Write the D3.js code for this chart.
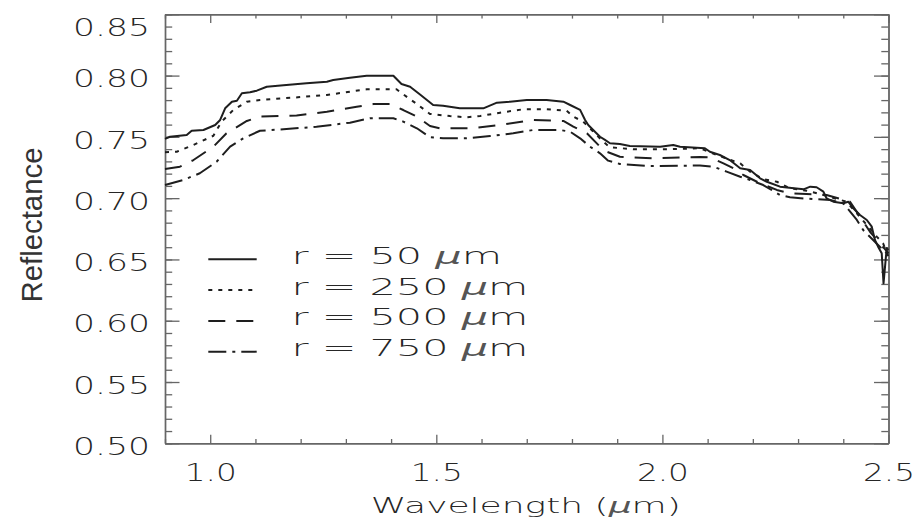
<!DOCTYPE html>
<html lang="en">
<head>
<meta charset="UTF-8">
<title>Reflectance spectra</title>
<style>
  body { margin: 0; background: #fff; }
  svg { display: block; }
</style>
</head>
<body>
<script src="https://cdnjs.cloudflare.com/ajax/libs/d3/7.8.5/d3.min.js"></script>
<script>

// values (wavelength in micron, reflectance)
var wave50 = [0.900, 0.911, 0.948, 0.959, 0.985, 1.011, 1.022, 1.033, 1.048, 1.059, 1.070, 1.088, 1.103, 1.125,
              1.162, 1.213, 1.258, 1.272, 1.309, 1.346, 1.405, 1.423, 1.442, 1.464, 1.493, 1.515, 1.552, 1.604,
              1.634, 1.663, 1.700, 1.744, 1.781, 1.796, 1.818, 1.829, 1.836, 1.847, 1.862, 1.873, 1.884, 1.906,
              1.928, 1.995, 2.024, 2.039, 2.094, 2.105, 2.127, 2.149, 2.172, 2.194, 2.216, 2.231, 2.260, 2.312,
              2.327, 2.341, 2.356, 2.363, 2.378, 2.400, 2.411, 2.422, 2.437, 2.452, 2.463, 2.470, 2.477, 2.485,
              2.489, 2.496, 2.500];
var refl50 = [0.7483, 0.7501, 0.7515, 0.7550, 0.7556, 0.7597, 0.7638, 0.7733, 0.7787, 0.7795, 0.7856, 0.7864, 0.7877, 0.7909,
              0.7921, 0.7937, 0.7950, 0.7964, 0.7983, 0.7999, 0.7999, 0.7931, 0.7909, 0.7846, 0.7760, 0.7754, 0.7733, 0.7733,
              0.7779, 0.7787, 0.7801, 0.7801, 0.7787, 0.7760, 0.7720, 0.7638, 0.7597, 0.7556, 0.7501, 0.7475, 0.7448, 0.7442,
              0.7426, 0.7420, 0.7434, 0.7420, 0.7407, 0.7379, 0.7352, 0.7311, 0.7244, 0.7230, 0.7162, 0.7134, 0.7094, 0.7072,
              0.7094, 0.7089, 0.7053, 0.6999, 0.6971, 0.6958, 0.6971, 0.6917, 0.6863, 0.6822, 0.6767, 0.6659, 0.6604, 0.6550,
              0.6305, 0.6591, 0.6577];

var wave250 = [0.900, 0.926, 0.963, 1.007, 1.025, 1.051, 1.081, 1.110, 1.194, 1.258, 1.309, 1.346, 1.412, 1.434,
               1.457, 1.486, 1.530, 1.567, 1.597, 1.641, 1.692, 1.744, 1.788, 1.803, 1.825, 1.847, 1.869, 1.884,
               1.936, 2.009, 2.083, 2.120, 2.172, 2.194, 2.223, 2.253, 2.282, 2.319, 2.356, 2.407, 2.430, 2.452,
               2.474, 2.488, 2.500];
var refl250 = [0.7375, 0.7379, 0.7434, 0.7509, 0.7624, 0.7719, 0.7787, 0.7801, 0.7823, 0.7842, 0.7869, 0.7888, 0.7888, 0.7828,
               0.7768, 0.7687, 0.7670, 0.7660, 0.7670, 0.7697, 0.7725, 0.7725, 0.7714, 0.7665, 0.7624, 0.7542, 0.7461, 0.7415,
               0.7399, 0.7399, 0.7407, 0.7352, 0.7284, 0.7216, 0.7154, 0.7134, 0.7080, 0.7061, 0.7026, 0.6971, 0.6876, 0.6781,
               0.6686, 0.6632, 0.6522];

var wave500 = [0.900, 0.933, 0.963, 1.007, 1.036, 1.081, 1.110, 1.191, 1.258, 1.324, 1.361, 1.398, 1.427, 1.457,
               1.486, 1.508, 1.578, 1.641, 1.714, 1.781, 1.803, 1.833, 1.862, 1.877, 1.906, 1.980, 2.083, 2.105,
               2.135, 2.157, 2.179, 2.216, 2.253, 2.282, 2.319, 2.363, 2.415, 2.437, 2.459, 2.481, 2.500];
var refl500 = [0.7238, 0.7257, 0.7311, 0.7420, 0.7529, 0.7630, 0.7665, 0.7674, 0.7705, 0.7746, 0.7768, 0.7768, 0.7719, 0.7665,
               0.7589, 0.7570, 0.7570, 0.7597, 0.7638, 0.7630, 0.7583, 0.7529, 0.7420, 0.7379, 0.7338, 0.7325, 0.7336, 0.7333,
               0.7284, 0.7244, 0.7189, 0.7121, 0.7067, 0.7040, 0.7034, 0.7026, 0.6971, 0.6849, 0.6726, 0.6632, 0.6550];

var wave750 = [0.900, 0.940, 0.977, 1.014, 1.044, 1.073, 1.110, 1.162, 1.235, 1.309, 1.353, 1.405, 1.427, 1.457,
               1.486, 1.515, 1.567, 1.619, 1.670, 1.714, 1.774, 1.796, 1.818, 1.840, 1.862, 1.880, 1.906, 1.973,
               2.083, 2.113, 2.142, 2.172, 2.194, 2.223, 2.260, 2.282, 2.319, 2.371, 2.400, 2.430, 2.444, 2.466,
               2.488, 2.500];
var refl750 = [0.7107, 0.7148, 0.7203, 0.7297, 0.7420, 0.7488, 0.7550, 0.7562, 0.7583, 0.7616, 0.7652, 0.7652, 0.7624, 0.7570,
               0.7497, 0.7488, 0.7488, 0.7507, 0.7529, 0.7556, 0.7556, 0.7542, 0.7488, 0.7420, 0.7366, 0.7306, 0.7279, 0.7262,
               0.7266, 0.7257, 0.7216, 0.7175, 0.7148, 0.7107, 0.7026, 0.7007, 0.6996, 0.6985, 0.6958, 0.6822, 0.6740, 0.6659,
               0.6577, 0.6536];

var radii = ["50", "250", "500", "750"];
var xTicks = [1.0, 1.5, 2.0, 2.5];
var yTicks = [0.50, 0.55, 0.60, 0.65, 0.70, 0.75, 0.80, 0.85];

var width = 917, height = 523;
var plotLeft = 165, plotRight = 888.5, plotTop = 14.3, plotBottom = 443.3;

var frameColor = "#666", inkColor = "#1e1e1e", textColor = "#262626", muColor = "#555";
var labelFont = "'DejaVu Sans', sans-serif", labelWeight = 200;
var dashes = [null, "4,6", "17,11", "18,6,3,6"];

var series = [
	{ wave: wave50, refl: refl50 },
	{ wave: wave250, refl: refl250 },
	{ wave: wave500, refl: refl500 },
	{ wave: wave750, refl: refl750 }
];

var x = d3.scaleLinear().domain([0.9, 2.5]).range([plotLeft, plotRight]);
var y = d3.scaleLinear().domain([0.5, 0.85]).range([plotBottom, plotTop]);

// minor ticks every 0.1 / 0.01
var xMinor = d3.range(9, 26).map(function(i) { return i / 10; })
	.filter(function(v) { return xTicks.indexOf(v) < 0; });
var yMinor = d3.range(50, 86).map(function(i) { return i / 100; });

var svg = d3.select("body").append("svg")
	.attr("width", width)
	.attr("height", height);

function drawAxis(axis, tx, ty) {
	var g = svg.append("g")
		.attr("transform", "translate(" + tx + "," + ty + ")")
		.call(axis);
	g.select(".domain").attr("stroke", frameColor).attr("stroke-width", 1.4);
	g.selectAll(".tick line").attr("stroke", frameColor).attr("stroke-width", 1.3);
	g.attr("font-family", labelFont).attr("font-weight", labelWeight).attr("font-size", 25);
	g.selectAll(".tick text").attr("fill", textColor);
	return g;
}

// bottom & top
drawAxis(d3.axisBottom(x).tickValues(xMinor).tickSizeInner(-4.3).tickSizeOuter(0).tickFormat(""), 0, plotBottom);
var gx = drawAxis(d3.axisBottom(x).tickValues(xTicks).tickSizeInner(-8.6).tickSizeOuter(0)
	.tickPadding(20).tickFormat(d3.format(".1f")), 0, plotBottom);
drawAxis(d3.axisTop(x).tickValues(xMinor).tickSizeInner(-4.3).tickSizeOuter(0).tickFormat(""), 0, plotTop);
drawAxis(d3.axisTop(x).tickValues(xTicks).tickSizeInner(-8.6).tickSizeOuter(0).tickFormat(""), 0, plotTop);

// left & right
drawAxis(d3.axisLeft(y).tickValues(yMinor).tickSizeInner(-7.2).tickSizeOuter(0).tickFormat(""), plotLeft, 0);
var gy = drawAxis(d3.axisLeft(y).tickValues(yTicks).tickSizeInner(-14.5).tickSizeOuter(0)
	.tickPadding(15).tickFormat(d3.format(".2f")), plotLeft, 0);
drawAxis(d3.axisRight(y).tickValues(yMinor).tickSizeInner(-7.2).tickSizeOuter(0).tickFormat(""), plotRight, 0);
drawAxis(d3.axisRight(y).tickValues(yTicks).tickSizeInner(-14.5).tickSizeOuter(0).tickFormat(""), plotRight, 0);

// the wide geometric labels of the original
gx.selectAll(".tick text").attr("textLength", 52).attr("lengthAdjust", "spacingAndGlyphs");
gy.selectAll(".tick text")
	.attr("dy", "0.45em")
	.attr("textLength", 77).attr("lengthAdjust", "spacingAndGlyphs")
	.attr("y", function(d) { return Math.max(0, 24 - y(d)); }); // keep top label inside the picture

// curves
var line = d3.line()
	.x(function(d) { return x(d[0]); })
	.y(function(d) { return y(d[1]); });

series.forEach(function(s, i) {
	svg.append("path")
		.datum(d3.zip(s.wave, s.refl))
		.attr("d", line)
		.attr("fill", "none")
		.attr("stroke", inkColor)
		.attr("stroke-width", 2)
		.attr("stroke-linejoin", "round")
		.attr("stroke-dasharray", dashes[i]);
});

// legend
var legX = 208.3, legLen = 48.4, legY = 259.3, legGap = 30.8, legTextX = 291.5;

radii.forEach(function(r, i) {
	var ly = legY + i * legGap;
	svg.append("line")
		.attr("x1", legX).attr("x2", legX + legLen)
		.attr("y1", ly).attr("y2", ly)
		.attr("stroke", inkColor)
		.attr("stroke-width", 2)
		.attr("stroke-dasharray", dashes[i]);

	var t = svg.append("text")
		.attr("x", legTextX)
		.attr("y", ly + 4.5)
		.attr("fill", textColor)
		.attr("font-family", labelFont)
		.attr("font-weight", labelWeight)
		.attr("font-size", 23)
		.style("white-space", "pre");
	t.append("tspan").text("r = " + r + " ");
	t.append("tspan").attr("font-style", "italic").attr("fill", muColor).text("\u03bc");
	t.append("tspan").text("m");
	var natural = t.node().getComputedTextLength();
	t.attr("textLength", natural * 1.8).attr("lengthAdjust", "spacingAndGlyphs");
});

// axis titles
var xt = svg.append("text")
	.attr("x", (plotLeft + plotRight) / 2 - 1)
	.attr("y", 513)
	.attr("text-anchor", "middle")
	.attr("fill", textColor)
	.attr("font-family", labelFont)
	.attr("font-weight", labelWeight)
	.attr("font-size", 22)
	.style("white-space", "pre");
xt.append("tspan").text("Wavelength (");
xt.append("tspan").attr("font-style", "italic").attr("fill", muColor).text("\u03bc");
xt.append("tspan").text("m)");
xt.attr("textLength", 310).attr("lengthAdjust", "spacingAndGlyphs");

svg.append("text")
	.attr("transform", "translate(42," + 225 + ") rotate(-90)")
	.attr("text-anchor", "middle")
	.attr("fill", "#333")
	.attr("font-family", "'Liberation Sans', Arial, sans-serif")
	.attr("font-size", 30)
	.attr("textLength", 155)
	.attr("lengthAdjust", "spacingAndGlyphs")
	.text("Reflectance");

</script>
</body>
</html>
